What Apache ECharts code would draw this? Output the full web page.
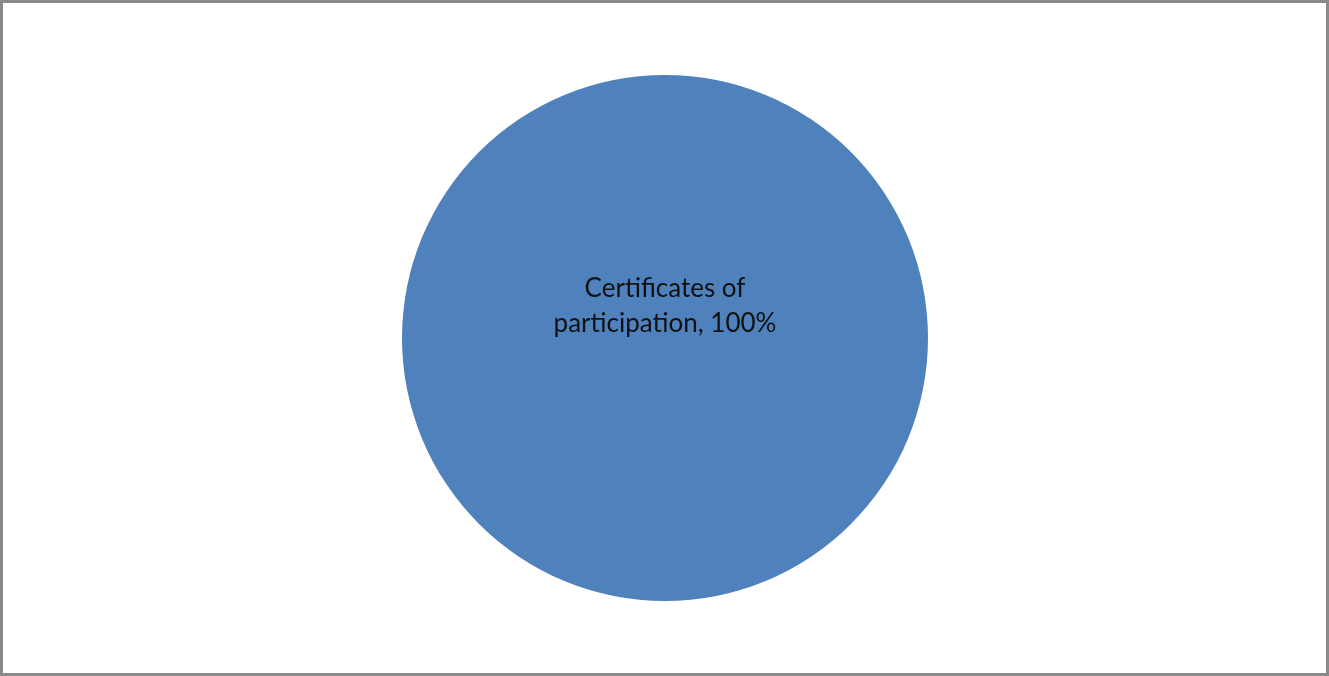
<!DOCTYPE html>
<html><head><meta charset="utf-8">
<script src="https://cdn.jsdelivr.net/npm/echarts@6/dist/echarts.min.js"></script>
<style>
html,body{margin:0;padding:0;background:#fff;}
#wrap{position:absolute;left:0;top:0;width:1323px;height:670px;border:3px solid #8a8a8a;box-sizing:content-box;}
#c{width:1323px;height:670px;}
</style></head>
<body><div id="wrap"><div id="c"></div></div>
<script>
var categories = ["Certificates of participation"];
var values = [100];
var chart = echarts.init(document.getElementById('c'));
chart.setOption({
  animation:false,
  series:[{
    type:'pie',
    center:[662,335],
    radius:[0,263],
    startAngle:90,
    itemStyle:{color:'#4F81BD'},
    label:{
      show:true,
      position:'center',
      offset:[0,-32],
      formatter:function(p){return 'Certificates of\nparticipation, '+p.percent.toFixed(0)+'%';},
      fontFamily:'Lato',
      fontSize:26,
      lineHeight:35,
      color:'#111'
    },
    emphasis:{disabled:true},
    data:categories.map(function(c,i){return {name:c,value:values[i]};})
  }]
});
</script></body></html>
